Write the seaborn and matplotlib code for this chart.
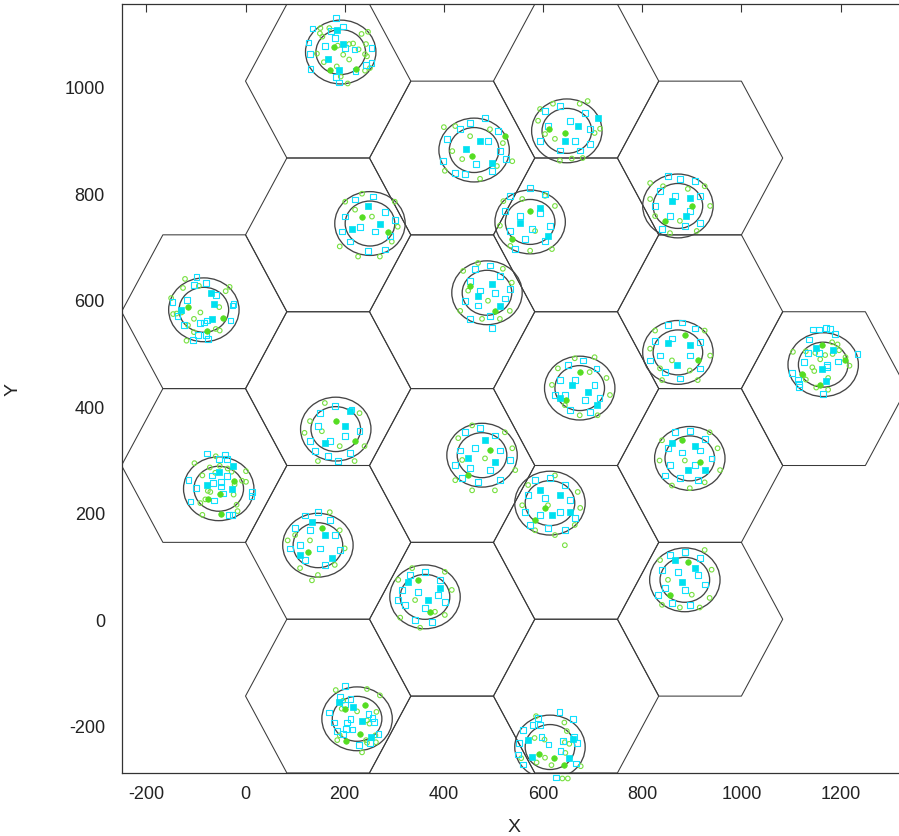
import numpy as np
import matplotlib
matplotlib.use("Agg")
import matplotlib.pyplot as plt
from matplotlib.patches import Ellipse, RegularPolygon
import seaborn as sns

# hexagonal cells (flat top), centres and circumradius
hex_x = [-83.3, -83.3,
         166.7, 166.7, 166.7, 166.7, 166.7,
         416.7, 416.7, 416.7, 416.7, 416.7,
         666.7, 666.7, 666.7, 666.7, 666.7,
         916.7, 916.7, 916.7, 916.7,
         1166.7]
hex_y = [577.4, 288.7,
         1010.4, 721.7, 433.0, 144.3, -144.3,
         866.0, 577.4, 288.7, 0.0, -288.7,
         1010.4, 721.7, 433.0, 144.3, -144.3,
         866.0, 577.4, 288.7, 0.0,
         433.0]
hex_r = 166.7

# centres of the two concentric rings in each cell
ring_x = [192, 461, 648, 872, 251, 574, 487, -84, 872, 1165, 674,
          182, 477, -54, 896, 614, 146, 362, 886, 225, 614]
ring_y = [1065, 881, 917, 776, 743, 746, 613, 581, 501, 478, 434,
          357, 308, 245, 302, 218, 139, 42, 74, -187, -240]
ring_r = [50, 71]

cyan_open = [
    # (192, 1065)
    (182, 1129), (135, 1109), (196, 1113), (180, 1091), (127, 1083), (160, 1077), (200, 1073),
    (220, 1070), (254, 1073), (130, 1061), (243, 1040), (254, 1044), (131, 1033), (222, 1029),
    (183, 1018), (188, 1008), (172, 1104),
    # (461, 881)
    (483, 941), (453, 932), (509, 917), (407, 902), (489, 898), (513, 879), (465, 855),
    (443, 836), (398, 860), (423, 838), (497, 842), (433, 920), (526, 864),
    # (648, 917)
    (604, 954), (634, 964), (684, 951), (610, 926), (694, 921), (594, 898), (664, 898),
    (634, 880), (674, 880), (654, 936), (694, 893),
    # (872, 776)
    (852, 832), (876, 827), (906, 823), (836, 804), (916, 795), (826, 776), (896, 767),
    (856, 757), (840, 733), (886, 739), (916, 744), (866, 795),
    # (251, 743)
    (221, 788), (257, 794), (281, 765), (201, 756), (231, 737), (261, 728), (291, 719),
    (211, 709), (247, 691), (281, 694), (301, 750), (195, 728),
    # (574, 746)
    (534, 795), (574, 810), (604, 798), (524, 767), (554, 757), (594, 763), (614, 739),
    (534, 729), (564, 714), (604, 710), (544, 695), (578, 733),
    # (487, 613)
    (463, 658), (493, 664), (453, 635), (513, 645), (473, 617), (503, 613), (443, 598),
    (523, 602), (469, 589), (493, 570), (453, 564), (533, 620), (497, 547),
    # (-84, 581)
    (-99, 642), (-104, 628), (-79, 632), (-118, 600), (-147, 595), (-24, 592), (-26, 589),
    (-137, 570), (-124, 553), (-92, 556), (-83, 557), (-77, 561), (-30, 561), (-96, 534),
    (-79, 534), (-75, 526), (-106, 524), (-59, 609),
    # (872, 501)
    (852, 552), (880, 557), (906, 546), (826, 523), (860, 527), (916, 520), (836, 495),
    (896, 495), (846, 464), (876, 452), (916, 471), (816, 486),
    # (1165, 478)
    (1145, 544), (1156, 544), (1171, 547), (1179, 545), (1189, 535), (1137, 525), (1134, 500),
    (1157, 500), (1126, 483), (1173, 478), (1172, 473), (1195, 484), (1234, 498), (1102, 462),
    (1114, 450), (1116, 442), (1116, 436), (1164, 423),
    # (674, 434)
    (650, 477), (680, 486), (708, 471), (634, 449), (664, 449), (704, 440), (644, 421),
    (684, 412), (714, 415), (654, 393), (694, 389), (624, 421),
    # (182, 357)
    (150, 387), (180, 400), (214, 394), (146, 363), (170, 335), (200, 344), (140, 316),
    (166, 306), (210, 312), (186, 297), (230, 353), (130, 335),
    # (477, 308)
    (443, 351), (473, 359), (503, 345), (433, 317), (463, 321), (513, 317), (423, 289),
    (453, 284), (493, 280), (533, 299), (469, 257), (513, 261), (437, 265),
    # (-54, 245)
    (-77, 311), (-42, 308), (-53, 301), (-38, 301), (-68, 270), (-38, 269), (-50, 257),
    (-65, 256), (-50, 249), (-100, 246), (-115, 261), (-45, 236), (-111, 221), (-63, 223),
    (13, 239), (12, 231), (-33, 196), (-26, 196),
    # (896, 302)
    (866, 351), (896, 354), (926, 339), (852, 321), (880, 313), (916, 317), (856, 289),
    (906, 289), (940, 302), (876, 265), (912, 261), (846, 270),
    # (614, 218)
    (584, 261), (614, 265), (644, 252), (570, 233), (604, 227), (654, 224), (564, 201),
    (594, 196), (634, 201), (664, 190), (610, 171), (644, 167), (574, 177),
    # (146, 139)
    (120, 195), (146, 201), (170, 186), (100, 171), (130, 167), (180, 158), (110, 139),
    (150, 133), (190, 130), (120, 111), (160, 102), (90, 133),
    # (362, 42)
    (332, 83), (362, 89), (392, 74), (316, 55), (348, 51), (388, 46), (322, 27),
    (362, 21), (402, 33), (342, -1), (376, -5), (308, 36),
    # (886, 74)
    (856, 121), (886, 126), (916, 115), (840, 93), (872, 89), (912, 83), (846, 59),
    (886, 55), (926, 65), (860, 31), (896, 27), (832, 46),
    # (225, -187)
    (200, -125), (190, -146), (212, -150), (200, -160), (169, -175), (248, -178), (178, -194),
    (205, -194), (212, -187), (259, -193), (256, -186), (202, -206), (185, -210), (216, -207),
    (268, -215), (197, -216), (251, -232), (229, -236),
    # (614, -240)
    (633, -174), (590, -185), (579, -198), (594, -199), (560, -208), (597, -221), (611, -235),
    (641, -229), (635, -248), (662, -221), (669, -232), (552, -232), (549, -254), (559, -273),
    (666, -271), (626, -297), (660, -188),
]
cyan_filled = [
    (184, 1107), (197, 1081), (167, 1051), (188, 1032),
    (473, 898), (445, 883), (497, 857),
    (711, 941), (670, 926), (644, 898),
    (860, 785), (896, 791), (888, 757),
    (247, 775), (271, 743), (215, 732),
    (554, 744), (594, 772), (610, 720),
    (497, 630), (469, 607), (513, 589),
    (-69, 613), (-64, 592), (-131, 581), (-67, 564),
    (852, 518), (896, 514), (870, 477),
    (1151, 510), (1185, 505), (1163, 469), (1171, 448),
    (658, 440), (690, 427), (634, 415), (708, 402),
    (210, 391), (160, 331), (200, 363),
    (483, 336), (449, 302), (503, 295),
    (-26, 288), (-53, 277), (-77, 252), (-28, 245),
    (860, 330), (906, 326), (892, 280), (926, 280),
    (594, 242), (634, 233), (618, 196), (654, 201),
    (134, 182), (160, 158), (110, 120), (174, 115),
    (328, 70), (392, 59), (368, 36),
    (866, 111), (906, 96), (880, 70),
    (188, -156), (217, -165), (235, -191), (254, -222),
    (569, -226), (661, -224), (578, -258), (652, -260),
]
green_open = [
    (151, 1110), (169, 1110), (150, 1100), (155, 1094), (234, 1099), (247, 1103), (209, 1080),
    (217, 1081), (186, 1077), (228, 1070), (243, 1080), (144, 1062), (197, 1060), (209, 1051),
    (158, 1046), (184, 1038), (241, 1061), (245, 1057), (251, 1035), (241, 1030), (192, 1019),
    (206, 1006),
    (400, 924), (423, 926), (437, 864), (519, 894), (507, 851), (402, 842), (473, 827),
    (538, 860), (453, 907), (493, 920), (417, 879),
    (594, 958), (620, 968), (674, 968), (690, 973), (604, 911), (624, 902), (704, 913),
    (634, 861), (658, 865), (680, 866), (590, 936), (715, 921),
    (816, 819), (842, 813), (926, 813), (937, 776), (826, 757), (876, 748), (910, 729),
    (856, 725), (816, 789), (892, 808),
    (201, 784), (235, 799), (301, 784), (307, 737), (221, 769), (255, 756), (190, 700),
    (227, 681), (271, 681), (295, 709),
    (520, 785), (558, 789), (624, 776), (513, 739), (584, 729), (618, 695), (534, 701),
    (574, 692), (604, 795),
    (439, 654), (469, 669), (519, 658), (537, 632), (449, 617), (489, 598), (433, 579),
    (533, 579), (477, 564), (513, 564),
    (-122, 639), (-126, 622), (-94, 626), (-32, 624), (-40, 616), (-53, 586), (-91, 576),
    (-104, 564), (-146, 573), (-139, 574), (-129, 576), (-116, 552), (-104, 539), (-60, 545),
    (-52, 542), (-119, 523), (-150, 603),
    (826, 542), (926, 542), (937, 495), (836, 471), (896, 467), (860, 486), (816, 508),
    (912, 449), (840, 449),
    (1183, 520), (1194, 516), (1104, 502), (1130, 503), (1149, 500), (1197, 505), (1159, 488),
    (1169, 496), (1184, 498), (1210, 492), (1218, 476), (1143, 473), (1147, 466), (1125, 458),
    (1130, 450), (1175, 453), (1175, 431), (1151, 435),
    (630, 471), (664, 490), (704, 492), (728, 453), (644, 402), (674, 383), (710, 383),
    (618, 440), (735, 421), (694, 464),
    (130, 372), (160, 406), (230, 387), (240, 325), (154, 353), (190, 325), (220, 297),
    (146, 297), (119, 350),
    (429, 340), (457, 364), (523, 351), (538, 321), (437, 299), (483, 302), (423, 261),
    (457, 242), (503, 242), (544, 280),
    (-103, 293), (-60, 306), (-72, 285), (-52, 288), (-36, 283), (-28, 277), (-61, 275),
    (-87, 270), (1, 278), (-7, 260), (1, 258), (-22, 253), (-76, 241), (-71, 239), (-24, 234),
    (-81, 225), (-91, 218), (-18, 215), (-16, 203), (-87, 196),
    (840, 336), (936, 351), (952, 321), (835, 298), (886, 298), (926, 257), (860, 251),
    (896, 246), (957, 280),
    (570, 252), (624, 270), (670, 239), (558, 214), (610, 214), (675, 209), (584, 167),
    (624, 158), (664, 177), (644, 139),
    (100, 158), (170, 201), (190, 167), (85, 148), (130, 148), (180, 102), (110, 96),
    (146, 83), (134, 73), (200, 133),
    (308, 74), (336, 96), (402, 89), (416, 55), (342, 36), (382, 14), (312, 3),
    (352, -16), (402, 8),
    (836, 111), (926, 130), (940, 93), (852, 74), (900, 46), (936, 40), (840, 27),
    (876, 22), (916, 22),
    (182, -133), (245, -131), (271, -143), (197, -153), (194, -168), (225, -173), (264, -174),
    (245, -190), (250, -196), (262, -218), (190, -218), (185, -227), (243, -227), (245, -232),
    (263, -231), (235, -250),
    (586, -182), (643, -194), (648, -210), (603, -226), (583, -223), (644, -231), (653, -234),
    (604, -260), (617, -274), (645, -251), (676, -276), (556, -261), (587, -269), (639, -299),
    (650, -299),
]
green_filled = [
    (178, 1075), (170, 1032), (222, 1034),
    (457, 870), (524, 907),
    (612, 921), (644, 913),
    (900, 776), (846, 748),
    (235, 756), (287, 728),
    (574, 767), (538, 714),
    (453, 626), (503, 579),
    (-115, 586), (-45, 566), (-77, 541),
    (886, 533), (912, 486),
    (1162, 514), (1209, 487), (1122, 461), (1159, 439),
    (674, 464), (646, 412),
    (182, 372), (220, 335),
    (493, 317), (449, 271),
    (-24, 259), (-51, 235), (-75, 225), (-50, 198),
    (880, 336), (916, 295),
    (604, 209), (584, 186),
    (154, 171), (126, 126),
    (348, 74), (372, 14),
    (892, 108), (856, 46),
    (201, -168), (241, -162), (231, -215), (202, -229),
    (591, -254), (623, -260), (643, -273),
]

sns.set_theme(style="white")
plt.rcParams["font.family"] = ["Liberation Sans", "DejaVu Sans"]
plt.rcParams["axes.unicode_minus"] = False

fig = plt.figure(figsize=(8.99, 8.37), dpi=100)
ax = fig.add_axes([0.1352, 0.0753, 0.8733, 0.9184])

# hex grid
for hx, hy in zip(hex_x, hex_y):
    ax.add_patch(RegularPolygon((hx, hy), numVertices=6, radius=hex_r,
                                orientation=np.pi / 6, fill=False,
                                edgecolor="#3a3a3a", linewidth=0.75, zorder=1))

# rings (radius in x-units, squashed like the original screen aspect)
squash = 0.844
for cx, cy in zip(ring_x, ring_y):
    for r in ring_r:
        ax.add_patch(Ellipse((cx, cy), 2 * r, 2 * r * squash, fill=False,
                             edgecolor="#454545", linewidth=0.95, zorder=2))


def pts(lst):
    a = np.array(lst, dtype=float)
    return a[:, 0], a[:, 1]


gx, gy = pts(green_open)
sns.scatterplot(x=gx, y=gy, ax=ax, marker="o", s=11, color="#77e040",
                edgecolor="#77e040", linewidth=0.8, zorder=3, clip_on=False)
ax.collections[-1].set_facecolor("none")

cx_, cy_ = pts(cyan_open)
sns.scatterplot(x=cx_, y=cy_, ax=ax, marker="s", s=17, color="#10e0ff",
                edgecolor="#10e0ff", linewidth=0.8, zorder=4, clip_on=False)
ax.collections[-1].set_facecolor("none")

gx, gy = pts(green_filled)
sns.scatterplot(x=gx, y=gy, ax=ax, marker="o", s=16, color="#55dd22",
                edgecolor="#55dd22", linewidth=0.5, zorder=5, clip_on=False)

cx_, cy_ = pts(cyan_filled)
sns.scatterplot(x=cx_, y=cy_, ax=ax, marker="s", s=24, color="#00e0f0",
                edgecolor="#00e0f0", linewidth=0.5, zorder=6, clip_on=False)

ax.set_xlim(-250, 1333.3)
ax.set_ylim(-288.7, 1154.7)
ax.set_xticks(np.arange(-200, 1201, 200))
ax.set_yticks(np.arange(-200, 1001, 200))
ax.tick_params(direction="in", length=6, width=0.8, color="#333333",
               top=True, right=True, labelsize=13, colors="#222222")
ax.tick_params(axis="y", pad=12)
ax.tick_params(axis="x", pad=9)
for sp in ax.spines.values():
    sp.set_color("#333333")
    sp.set_linewidth(0.9)

ax.set_xlabel("X", fontsize=14)
ax.set_ylabel("Y", fontsize=14)
ax.xaxis.set_label_coords(0.5, -0.059)
ax.yaxis.set_label_coords(-0.127, 0.5)

fig.savefig("out.png", dpi=100)
